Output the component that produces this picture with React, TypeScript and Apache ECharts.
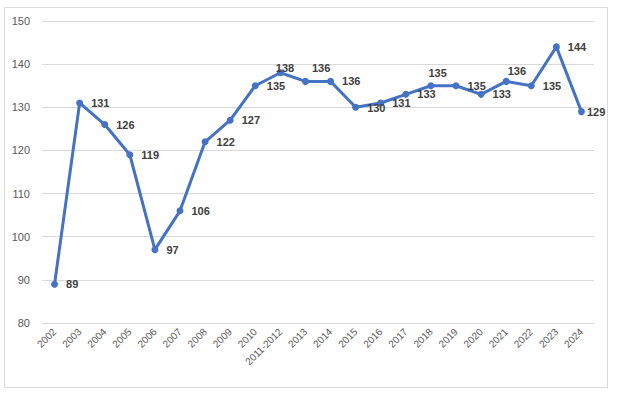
import React, { useEffect, useRef } from "react";
import * as echarts from "echarts";

const categories = [
  "2002", "2003", "2004", "2005", "2006", "2007", "2008", "2009", "2010",
  "2011-2012", "2013", "2014", "2015", "2016", "2017", "2018", "2019",
  "2020", "2021", "2022", "2023", "2024",
];
const values = [
  89, 131, 126, 119, 97, 106, 122, 127, 135, 138, 136, 136, 130, 131, 133,
  135, 135, 133, 136, 135, 144, 129,
];
const yTicks = { min: 80, max: 150, interval: 10 };

// label offsets (relative to default right-hand placement), by category
const labelOffsets: Record<string, [number, number]> = {
  "2011-2012": [-16, -5],
  "2013": [-5, -13],
  "2015": [0, 1],
  "2018": [-14, -13],
  "2021": [-10, -10],
  "2024": [-6, 0],
};

export default function App() {
  const ref = useRef<HTMLDivElement>(null);
  useEffect(() => {
    if (!ref.current) return;
    const chart = echarts.init(ref.current, undefined, { renderer: "svg" });
    const font = "'Liberation Sans', Arial, sans-serif";
    const data = values.map((v, i) => {
      const off = labelOffsets[categories[i]];
      return off ? { value: v, label: { offset: off } } : { value: v };
    });
    chart.setOption({
      animation: false,
      backgroundColor: "#ffffff",
      grid: { left: 42, right: 23, top: 21, bottom: 76, containLabel: false },
      graphic: [
        {
          type: "rect",
          shape: { x: 4.5, y: 7.5, width: 603, height: 380 },
          style: { fill: "none", stroke: "#d9d9d9", lineWidth: 1 },
          silent: true,
        },
      ],
      xAxis: {
        type: "category",
        data: categories,
        boundaryGap: true,
        axisLine: { show: false },
        axisTick: { show: false },
        axisLabel: {
          rotate: 45,
          interval: 0,
          margin: 7,
          color: "#595959",
          fontSize: 10,
          fontFamily: font,
        },
      },
      yAxis: {
        type: "value",
        min: yTicks.min,
        max: yTicks.max,
        interval: yTicks.interval,
        axisLine: { show: false },
        axisTick: { show: false },
        splitLine: { lineStyle: { color: "#d9d9d9", width: 1 } },
        axisLabel: {
          color: "#595959",
          fontSize: 11,
          fontFamily: font,
          margin: 12,
        },
      },
      series: [
        {
          type: "line",
          data,
          symbol: "circle",
          symbolSize: 7,
          lineStyle: { color: "#4472C4", width: 3 },
          itemStyle: { color: "#4472C4" },
          label: {
            show: true,
            position: "right",
            distance: 8,
            color: "#404040",
            fontSize: 11,
            fontWeight: "bold",
            fontFamily: font,
          },
        },
      ],
    });
    return () => chart.dispose();
  }, []);
  return (
    <div
      ref={ref}
      style={{ position: "absolute", left: 0, top: 0, width: 617, height: 399 }}
    />
  );
}
